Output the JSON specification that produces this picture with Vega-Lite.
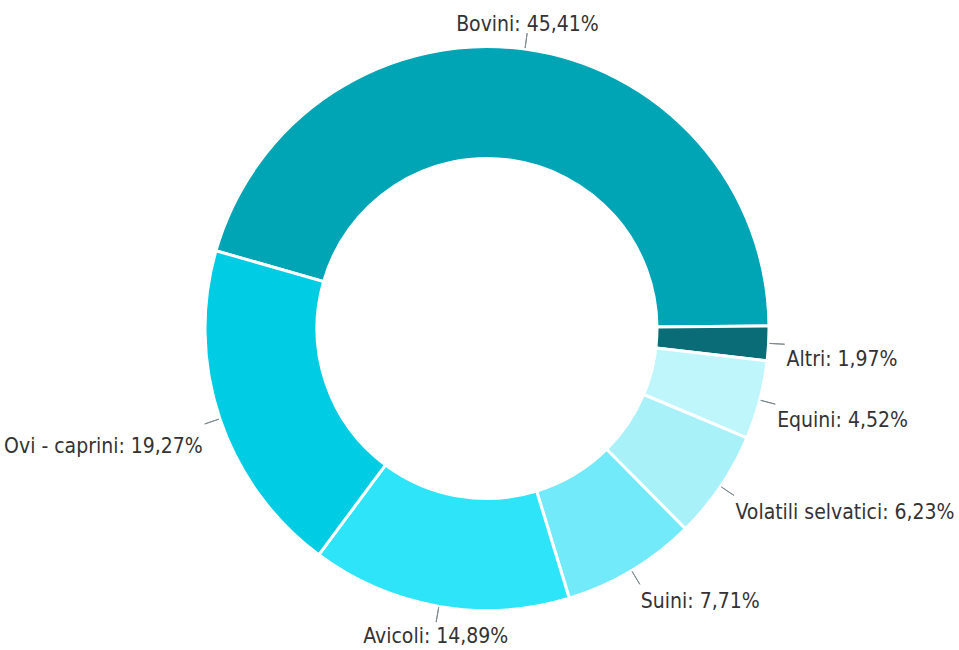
{
  "$schema": "https://vega.github.io/schema/vega-lite/v6.json",
  "width": 944,
  "height": 643,
  "autosize": "none",
  "padding": {"left": 15, "top": 7, "right": 0, "bottom": 0},
  "background": "white",
  "config": {"view": {"stroke": null}},
  "data": {
    "values": [
      {"cat": "Bovini", "pct": 45.41, "ord": 1},
      {"cat": "Altri", "pct": 1.97, "ord": 2},
      {"cat": "Equini", "pct": 4.52, "ord": 3},
      {"cat": "Volatili selvatici", "pct": 6.23, "ord": 4},
      {"cat": "Suini", "pct": 7.71, "ord": 5},
      {"cat": "Avicoli", "pct": 14.89, "ord": 6},
      {"cat": "Ovi - caprini", "pct": 19.27, "ord": 7}
    ]
  },
  "transform": [
    {"calculate": "datum.cat + ': ' + replace(format(datum.pct, '.2f'), '.', ',') + '%'", "as": "label"}
  ],
  "encoding": {
    "theta": {"field": "pct", "type": "quantitative", "stack": true, "scale": {"range": [-1.2915, 4.9917]}},
    "order": {"field": "ord", "type": "quantitative"}
  },
  "layer": [
    {
      "mark": {"type": "arc", "innerRadius": 170, "outerRadius": 282, "stroke": "white", "strokeWidth": 3},
      "encoding": {
        "color": {
          "field": "cat", "type": "nominal", "legend": null,
          "scale": {
            "domain": ["Bovini", "Altri", "Equini", "Volatili selvatici", "Suini", "Avicoli", "Ovi - caprini"],
            "range": ["#00A5B5", "#0A6C76", "#BFF6FC", "#A8F1F9", "#72EAFA", "#2DE4F8", "#00CDE3"]
          }
        }
      }
    },
    {
      "mark": {"type": "arc", "padAngle": 3.1416, "innerRadius": 283, "outerRadius": 298, "fillOpacity": 0, "fill": "white", "stroke": "#7d8b8d", "strokeWidth": 1}
    },
    {
      "mark": {"type": "text", "radius": 300, "align": "left", "baseline": "top", "dy": 5, "font": "DejaVu Sans Condensed, Liberation Sans Narrow, sans-serif", "fontSize": 21, "color": "#333333"},
      "encoding": {"text": {"condition": {"test": "indexof(['Altri','Equini','Volatili selvatici','Suini'], datum.cat) >= 0", "field": "label"}, "value": ""}}
    },
    {
      "mark": {"type": "text", "radius": 300, "align": "right", "baseline": "top", "dy": 11, "font": "DejaVu Sans Condensed, Liberation Sans Narrow, sans-serif", "fontSize": 21, "color": "#333333"},
      "encoding": {"text": {"condition": {"test": "datum.cat === 'Ovi - caprini'", "field": "label"}, "value": ""}}
    },
    {
      "mark": {"type": "text", "radius": 300, "align": "center", "baseline": "top", "dy": 2, "font": "DejaVu Sans Condensed, Liberation Sans Narrow, sans-serif", "fontSize": 21, "color": "#333333"},
      "encoding": {"text": {"condition": {"test": "datum.cat === 'Avicoli'", "field": "label"}, "value": ""}}
    },
    {
      "mark": {"type": "text", "radius": 300, "align": "center", "baseline": "alphabetic", "font": "DejaVu Sans Condensed, Liberation Sans Narrow, sans-serif", "fontSize": 21, "color": "#333333"},
      "encoding": {"text": {"condition": {"test": "datum.cat === 'Bovini'", "field": "label"}, "value": ""}}
    }
  ]
}
